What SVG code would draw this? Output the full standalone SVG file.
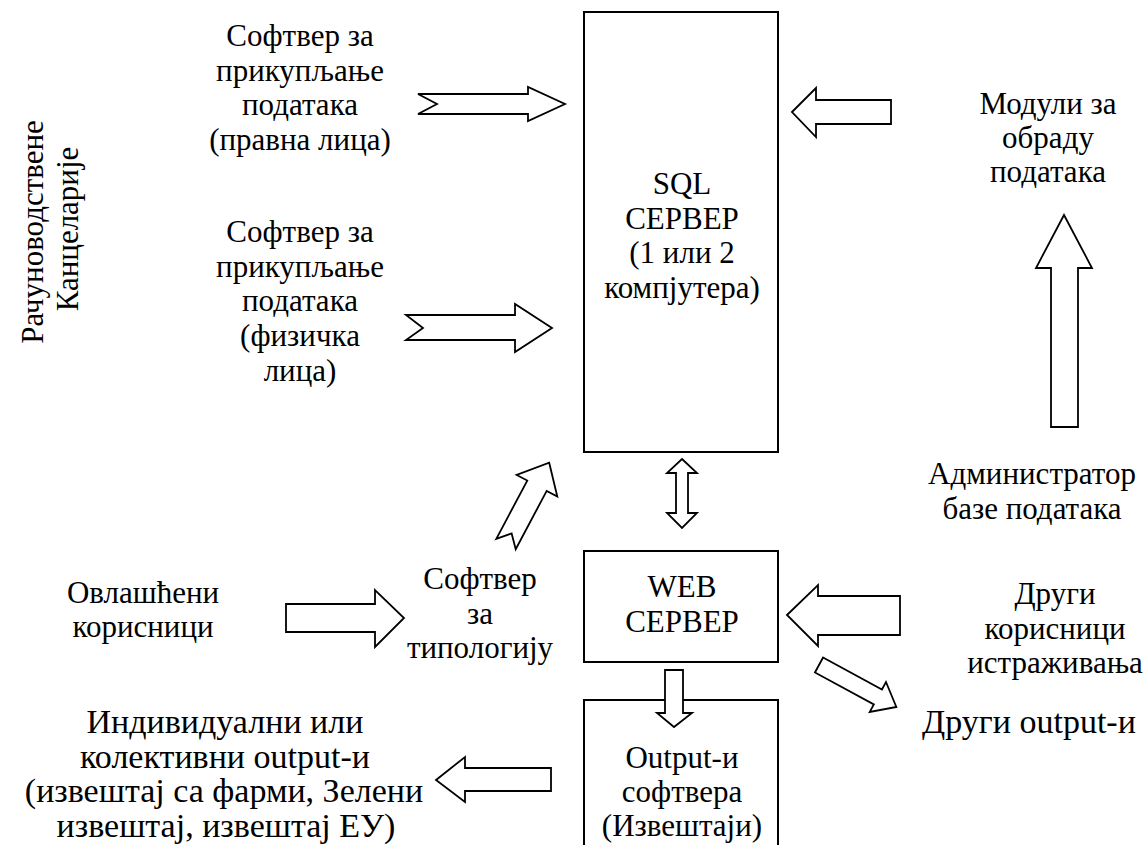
<svg xmlns="http://www.w3.org/2000/svg" width="1148" height="845" viewBox="0 0 1148 845">
<style>
text{font-family:"Liberation Serif","Times New Roman",serif;font-size:31px;fill:#000;text-anchor:middle}
.big{font-size:34px}
.box{fill:none;stroke:#000;stroke-width:2}
.arr{fill:#fff;stroke:#000;stroke-width:1.8;stroke-linejoin:miter}
</style>
<rect width="1148" height="845" fill="#fff"/>
<g id="sql">
<rect class="box" x="584" y="12" width="194" height="440"/>
<text x="682" y="194">SQL</text>
<text x="682" y="229">СЕРВЕР</text>
<text x="682" y="263">(1 или 2</text>
<text x="682" y="298">компјутера)</text>
</g>
<g id="web">
<rect class="box" x="584" y="551" width="194" height="111"/>
<text x="682" y="597">WEB</text>
<text x="682" y="632">СЕРВЕР</text>
</g>
<g id="output">
<path class="box" d="M584,847 V700 H778 V847"/>
<text x="682" y="768">Output-и</text>
<text x="682" y="802">софтвера</text>
<text x="682" y="836">(Извештаји)</text>
</g>
<g id="sw1">
<text x="300" y="46">Софтвер за</text>
<text x="300" y="81">прикупљање</text>
<text x="300" y="115">података</text>
<text x="300" y="150">(правна лица)</text>
</g>
<g id="sw2">
<text x="300" y="242">Софтвер за</text>
<text x="300" y="277">прикупљање</text>
<text x="300" y="311">података</text>
<text x="300" y="346">(физичка</text>
<text x="300" y="381">лица)</text>
</g>
<g id="modules">
<text x="1048" y="114">Модули за</text>
<text x="1048" y="148">обраду</text>
<text x="1048" y="182">података</text>
</g>
<g id="admin">
<text x="1032" y="484">Администратор</text>
<text x="1032" y="519">базе података</text>
</g>
<g id="users">
<text x="143" y="603">Овлашћени</text>
<text x="143" y="637">корисници</text>
</g>
<g id="typology">
<text x="480" y="589">Софтвер</text>
<text x="480" y="624">за</text>
<text x="480" y="658">типологију</text>
</g>
<g id="other-users">
<text x="1055" y="604">Други</text>
<text x="1055" y="639">корисници</text>
<text x="1055" y="673">истраживања</text>
</g>
<g id="other-outputs">
<text class="big" x="1029" y="733">Други output-и</text>
</g>
<g id="reports">
<text class="big" x="225" y="733">Индивидуални или</text>
<text class="big" x="225" y="768">колективни output-и</text>
<text class="big" x="224" y="802">(извештај са фарми, Зелени</text>
<text class="big" x="226" y="837">извештај, извештај ЕУ)</text>
</g>
<g id="offices">
<text transform="translate(43,232) rotate(-90)">Рачуноводствене</text>
<text transform="translate(78,229) rotate(-90)">Канцеларије</text>
</g>
<g id="connectors">
<polygon class="arr" points="418,94 528,94 528,87 565,104 528,121 528,114 418,114 437,104"/>
<polygon class="arr" points="406,315 515,315 515,304 552,328 515,352 515,340 406,340 423,328"/>
<polygon class="arr" points="792,112 816,88 816,100 891,100 891,124 816,124 816,137"/>
<polygon class="arr" points="1064,215 1092,268 1078,268 1078,427 1051,427 1051,268 1036,268"/>
<polygon class="arr" transform="translate(506,544) rotate(-62)" points="0,-11 66,-11 66,-23 92,0 66,23 66,11 0,11 12,0"/>
<polygon class="arr" points="682,459 697,473 688,473 688,513 697,513 682,528 667,513 676,513 676,473 667,473"/>
<polygon class="arr" points="286,604 375,604 375,590 404,618 375,647 375,632 286,632"/>
<polygon class="arr" points="787,615 818,585 818,596 900,596 900,635 818,635 818,646"/>
<polygon class="arr" points="665,670 683,670 683,713 692,713 674,727 657,713 665,713"/>
<polygon class="arr" points="436,780 465,757 465,768 551,768 551,791 465,791 465,802"/>
<polygon class="arr" transform="translate(819,665) rotate(28.5)" points="0,-8.5 67,-8.5 67,-17 88,0 67,17 67,8.5 0,8.5"/>
</g>
</svg>
